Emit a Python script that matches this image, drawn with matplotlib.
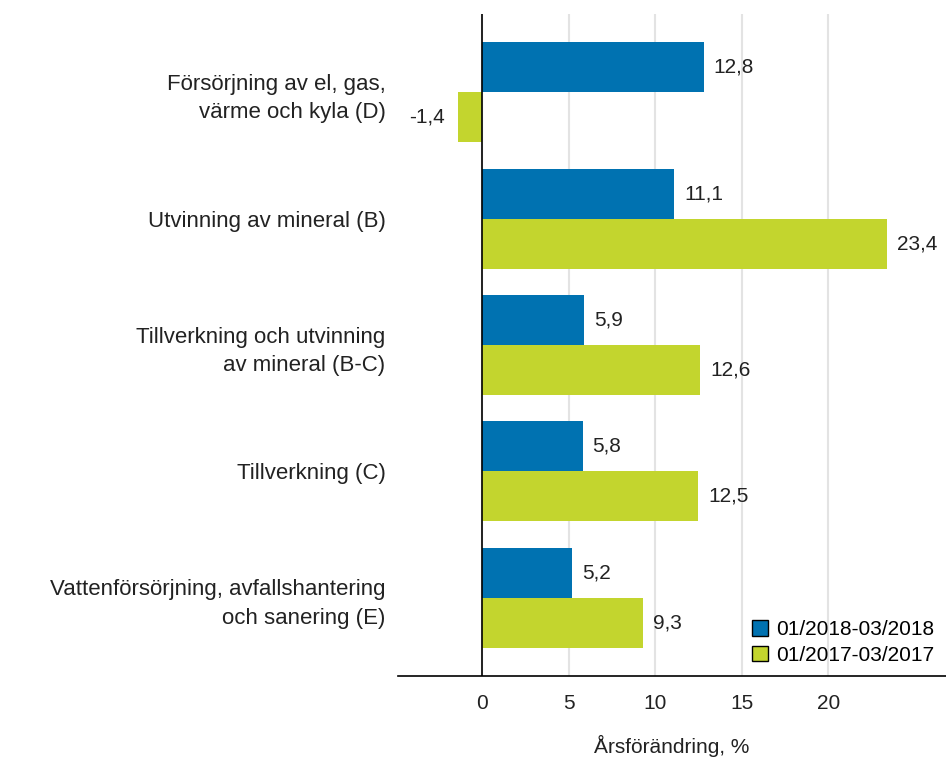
import matplotlib.pyplot as plt
import matplotlib.transforms as mtransforms
import numpy as np

plt.rcParams['font.family'] = ['Liberation Sans', 'DejaVu Sans']

categories = [
    "Försörjning av el, gas,\nvärme och kyla (D)",
    "Utvinning av mineral (B)",
    "Tillverkning och utvinning\nav mineral (B-C)",
    "Tillverkning (C)",
    "Vattenförsörjning, avfallshantering\noch sanering (E)",
]
series_2018 = [12.8, 11.1, 5.9, 5.8, 5.2]
series_2017 = [-1.4, 23.4, 12.6, 12.5, 9.3]
label_2018 = "01/2018-03/2018"
label_2017 = "01/2017-03/2017"
xticks = [0, 5, 10, 15, 20]

blue = "#0072b1"
green = "#c3d52e"
fs = 15

fig = plt.figure(figsize=(9.46, 7.6), dpi=100)
ax = fig.add_axes([0.4207, 0.1105, 0.5793, 0.8711])

y = np.arange(len(categories))
h = 0.395
b1 = ax.barh(y - h / 2, series_2018, height=h, color=blue, label=label_2018, zorder=3)
b2 = ax.barh(y + h / 2, series_2017, height=h, color=green, label=label_2017, zorder=3)

for bars, vals in [(b1, series_2018), (b2, series_2017)]:
    for bar, v in zip(bars, vals):
        yc = bar.get_y() + bar.get_height() / 2
        txt = f"{v:.1f}".replace(".", ",")
        if v >= 0:
            ax.annotate(txt, (v, yc), xytext=(7, 0), textcoords="offset points",
                        ha="left", va="center", fontsize=fs, color="#222222")
        else:
            ax.annotate(txt, (v, yc), xytext=(-9, 0), textcoords="offset points",
                        ha="right", va="center", fontsize=fs, color="#222222")

ax.set_xlim(-4.86, 26.8)
ax.set_ylim(len(categories) - 1 + 0.62, -0.62)
ax.set_yticks(y)
ax.set_yticklabels(categories, fontsize=16, ha="right", linespacing=1.47, color="#222222")
# nudge category labels up a little so they sit centred on the bar pair
shift = mtransforms.ScaledTranslation(0, 3 / 72, fig.dpi_scale_trans)
for lbl in ax.get_yticklabels():
    lbl.set_transform(lbl.get_transform() + shift)
ax.set_xticks(xticks)
ax.set_xticklabels([str(t) for t in xticks], fontsize=fs, color="#222222")
ax.tick_params(axis="y", length=0, pad=9)
ax.tick_params(axis="x", length=0, pad=13)

ax.grid(axis="x", color="#e3e3e3", linewidth=1.5, zorder=0)
ax.axvline(0, color="black", linewidth=1.2, zorder=4)
for s in ["top", "right", "left"]:
    ax.spines[s].set_visible(False)
ax.spines["bottom"].set_color("black")
ax.spines["bottom"].set_linewidth(1.2)

ax.set_xlabel("Årsförändring, %", fontsize=fs, labelpad=16, color="#222222")

leg = ax.legend(loc="lower right", bbox_to_anchor=(1.0, 0.0), frameon=False,
                fontsize=fs, handlelength=0.75, handleheight=0.75,
                handletextpad=0.4, labelspacing=0.3, borderaxespad=0.15)
for p in leg.get_patches():
    p.set_edgecolor("black")
    p.set_linewidth(1)

fig.savefig("out.png", dpi=100)
